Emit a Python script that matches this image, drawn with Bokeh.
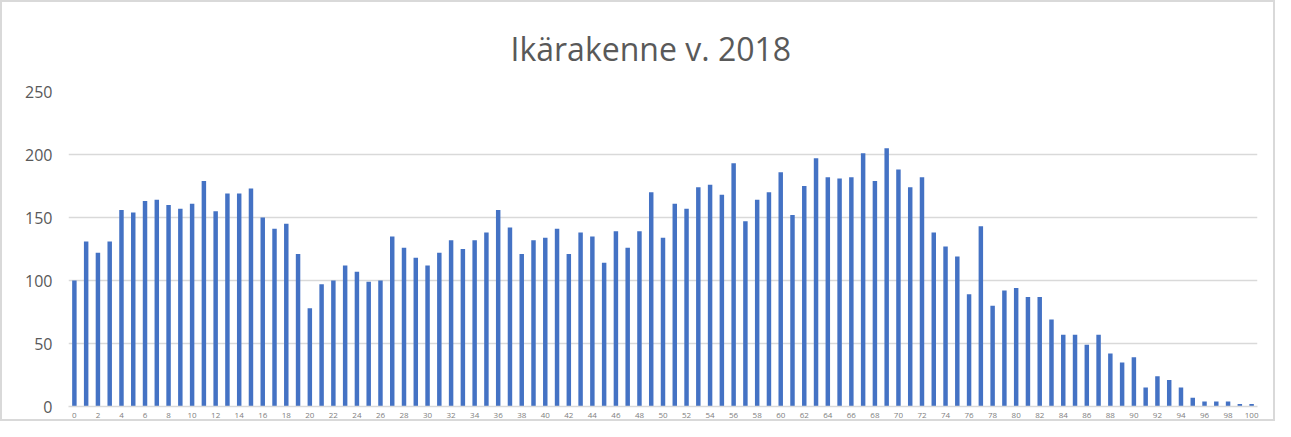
from bokeh.plotting import figure
from bokeh.models import Range1d, FixedTicker
from bokeh.embed import file_html
from bokeh.resources import INLINE

title_text = "Ikärakenne v. 2018"
ages = list(range(0, 101))
counts = [100, 131, 122, 131, 156, 154, 163, 164, 160, 157,
          161, 179, 155, 169, 169, 173, 150, 141, 145, 121,
          78, 97, 100, 112, 107, 99, 100, 135, 126, 118,
          112, 122, 132, 125, 132, 138, 156, 142, 121, 132,
          134, 141, 121, 138, 135, 114, 139, 126, 139, 170,
          134, 161, 157, 174, 176, 168, 193, 147, 164, 170,
          186, 152, 175, 197, 182, 181, 182, 201, 179, 205,
          188, 174, 182, 138, 127, 119, 89, 143, 80, 92,
          94, 87, 87, 69, 57, 57, 49, 57, 42, 35,
          39, 15, 24, 21, 15, 7, 4, 4, 4, 2, 2]
x_ticks = list(range(0, 101, 2))
y_ticks = [0, 50, 100, 150, 200, 250]

p = figure(width=1275, height=421, output_backend="svg", toolbar_location=None,
           x_range=Range1d(-0.5, 100.5), y_range=Range1d(0, 250),
           min_border_left=66, min_border_right=20, min_border_top=89,
           min_border_bottom=17, title=title_text)
p.styles = {"border": "2px solid #d9d9d9", "box-sizing": "border-box"}
p.outline_line_color = None
p.background_fill_color = "white"
p.border_fill_color = "white"

p.title.align = "left"
p.title.offset = 442
p.title.text_font = "Open Sans"
p.title.text_font_size = "32px"
p.title.text_font_style = "normal"
p.title.text_color = "#595959"
p.title.standoff = 43

p.vbar(x=ages, top=counts, width=0.38, bottom=0, fill_color="#4472C4", line_color=None)

p.xgrid.visible = False
p.ygrid.ticker = FixedTicker(ticks=y_ticks)
p.ygrid.grid_line_color = "#d9d9d9"
p.ygrid.grid_line_width = 1.5

p.yaxis.ticker = FixedTicker(ticks=y_ticks)
p.yaxis.axis_line_color = None
p.yaxis.major_tick_line_color = None
p.yaxis.minor_tick_line_color = None
p.yaxis.major_tick_out = 0
p.yaxis.major_tick_in = 0
p.yaxis.major_label_standoff = 16
p.yaxis.major_label_text_font = "Open Sans"
p.yaxis.major_label_text_font_size = "16px"
p.yaxis.major_label_text_color = "#595959"

p.xaxis.ticker = FixedTicker(ticks=x_ticks)
p.xaxis.axis_line_color = "#d9d9d9"
p.xaxis.axis_line_width = 1.5
p.xaxis.major_tick_line_color = None
p.xaxis.minor_tick_line_color = None
p.xaxis.major_tick_out = 0
p.xaxis.major_tick_in = 0
p.xaxis.major_label_standoff = 6
p.xaxis.major_label_text_font = "Open Sans"
p.xaxis.major_label_text_font_size = "8px"
p.xaxis.major_label_text_color = "#808080"

open("out.html", "w").write(file_html(p, INLINE))
